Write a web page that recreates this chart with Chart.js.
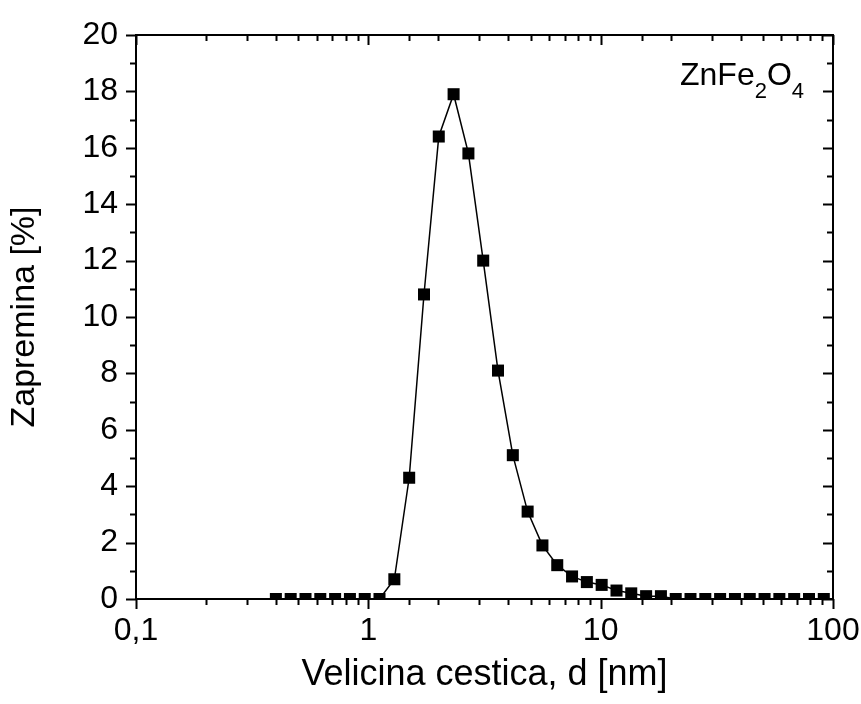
<!DOCTYPE html>
<html>
<head>
<meta charset="utf-8">
<script src="https://cdn.jsdelivr.net/npm/chart.js@4"></script>
<style>
  body { margin: 0; background: #fff; }
</style>
</head>
<body>
<canvas id="grafik" width="861" height="704"></canvas>
<script>
// Raspodela velicine cestica (zapreminski udeo po klasama velicine)
const velicine = [0.4, 0.4632, 0.5365, 0.6213, 0.7195, 0.8332, 0.9649, 1.117, 1.294, 1.499,
  1.736, 2.01, 2.328, 2.696, 3.122, 3.615, 4.187, 4.849, 5.615, 6.503,
  7.531, 8.721, 10.1, 11.7, 13.54, 15.69, 18.17, 21.04, 24.36, 28.21,
  32.67, 37.84, 43.82, 50.75, 58.77, 68.06, 78.82, 91.28];
const zapremina = [0, 0, 0, 0, 0, 0, 0, 0, 0.7, 4.3,
  10.8, 16.4, 17.9, 15.8, 12.0, 8.1, 5.1, 3.1, 1.9, 1.2,
  0.8, 0.6, 0.5, 0.3, 0.2, 0.1, 0.1, 0, 0, 0,
  0, 0, 0, 0, 0, 0, 0, 0];
const yTicks = [0, 2, 4, 6, 8, 10, 12, 14, 16, 18, 20];
const xTicks = [0.1, 1, 10, 100];

const FONT = "'Liberation Sans', Arial, sans-serif";

const jeDekada = v => Math.abs(Math.log10(v) - Math.round(Math.log10(v))) < 1e-6;

// okvir i podeoci na sve cetiri strane
const okvir = {
  id: 'okvir',
  afterDraw(chart) {
    const { ctx, chartArea: a, scales: { x, y } } = chart;
    ctx.save();
    ctx.strokeStyle = '#000';
    ctx.lineWidth = 2;
    ctx.strokeRect(a.left, a.top, a.right - a.left, a.bottom - a.top);

    ctx.beginPath();
    x.ticks.forEach(t => {
      const px = Math.round(x.getPixelForValue(t.value)) + 0.5;
      const len = jeDekada(t.value) ? 10 : 6;
      ctx.moveTo(px, a.bottom); ctx.lineTo(px, a.bottom + len);
      ctx.moveTo(px, a.top); ctx.lineTo(px, a.top + len);
    });
    for (let v = yTicks[0]; v <= yTicks[yTicks.length - 1]; v++) {
      const py = Math.round(y.getPixelForValue(v)) + 0.5;
      const len = yTicks.includes(v) ? 10 : 6;
      ctx.moveTo(a.left, py); ctx.lineTo(a.left - len, py);
      ctx.moveTo(a.right, py); ctx.lineTo(a.right - len, py);
    }
    ctx.stroke();

    // oznaka uzorka sa indeksima
    ctx.fillStyle = '#000';
    ctx.textBaseline = 'alphabetic';
    let tx = 680;
    const by = 85;
    const delovi = [['ZnFe', 32, 0], ['2', 22, 13], ['O', 32, 0], ['4', 22, 13]];
    delovi.forEach(([s, size, dy]) => {
      ctx.font = size + 'px ' + FONT;
      ctx.fillText(s, tx, by + dy);
      tx += ctx.measureText(s).width;
    });
    ctx.restore();
  }
};

new Chart(document.getElementById('grafik'), {
  type: 'line',
  data: {
    datasets: [{
      data: velicine.map((d, i) => ({ x: d, y: zapremina[i] })),
      borderColor: '#000',
      borderWidth: 1.5,
      backgroundColor: '#000',
      pointStyle: 'rect',
      pointRadius: 8.5,
      pointBorderWidth: 0,
      tension: 0,
      clip: 0
    }]
  },
  options: {
    responsive: false,
    animation: false,
    layout: { padding: { top: 35, right: 28, left: 0, bottom: 0 } },
    plugins: { legend: { display: false }, tooltip: { enabled: false } },
    scales: {
      x: {
        type: 'logarithmic',
        min: 0.1,
        max: 100,
        grid: { display: false },
        border: { display: false },
        ticks: {
          autoSkip: false,
          maxRotation: 0,
          padding: 5,
          color: '#000',
          font: { family: FONT, size: 32 },
          callback: v => xTicks.some(t => Math.abs(t - v) < 1e-9) ? String(v).replace('.', ',') : ''
        },
        title: {
          display: true,
          text: 'Velicina cestica, d [nm]',
          color: '#000',
          font: { family: FONT, size: 36 },
          padding: { top: 0, bottom: 7 }
        },
        afterFit: s => { s.height = 105; s.paddingLeft = 0; s.paddingRight = 0; }
      },
      y: {
        min: 0,
        max: 20,
        grid: { display: false },
        border: { display: false },
        ticks: {
          stepSize: 2,
          padding: 10,
          color: '#000',
          font: { family: FONT, size: 32 }
        },
        title: {
          display: true,
          text: 'Zapremina [%]',
          color: '#000',
          font: { family: FONT, size: 34 },
          padding: { top: 4, bottom: 0 }
        },
        afterFit: s => { s.width = 136; s.paddingTop = 0; s.paddingBottom = 0; }
      }
    }
  },
  plugins: [okvir]
});
</script>
</body>
</html>
